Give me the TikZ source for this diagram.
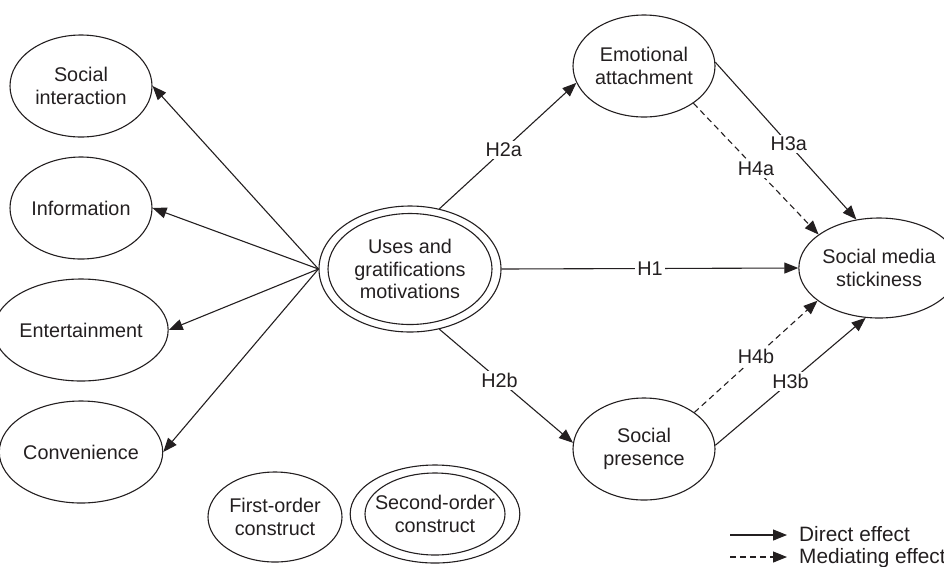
\documentclass[tikz,border=0pt]{standalone}
\usepackage{fontspec}
\setmainfont{Liberation Sans}
\usetikzlibrary{shapes.geometric,arrows.meta}
\definecolor{ink}{RGB}{35,31,32}
\begin{document}
\begin{tikzpicture}[x=1pt,y=-1pt,
  every node/.style={text=ink},
  construct/.style={ellipse,draw=ink,line width=1.1pt,inner sep=0pt,minimum width=142pt,minimum height=102pt,align=center,font=\fontsize{19.8}{22.5}\selectfont},
  conn/.style={draw=ink,line width=1.1pt,-{Triangle[length=14pt,width=11pt]}},
  med/.style={conn,dash pattern=on 6pt off 4pt},
  hlabel/.style={fill=white,inner sep=2pt,font=\fontsize{19.8}{22.5}\selectfont},
  legtext/.style={anchor=base west,inner sep=0pt,font=\fontsize{20.8}{24}\selectfont}
]
\useasboundingbox (0,0) rectangle (944,566);
\clip (0,0) rectangle (944,566);

% first-order constructs
\node[construct] (si) at (81,86) {Social\\interaction};
\node[construct] (inf) at (81,208) {Information};
\node[construct] (ent) at (81,330) {Entertainment};
\node[construct] (con) at (81,452) {Convenience};

% second-order construct
\node[construct,minimum width=182pt,minimum height=126pt] (ugm) at (410,269) {Uses and\\gratifications\\motivations};
\draw[ink,line width=1.1pt] (ugm.center) ellipse [x radius=82pt,y radius=55.5pt];

\node[construct] (emo) at (644,66) {Emotional\\attachment};
\node[construct] (pres) at (644,449) {Social\\presence};
\node[construct,minimum height=100pt] (stick) at (879,268) {Social media\\stickiness};

% legend constructs
\node[construct,minimum width=134pt,minimum height=90pt] (fo) at (275,517) {First-order\\construct};
\node[construct,minimum width=156pt,minimum height=98pt] (so) at (435,514) {Second-order\\construct};
\draw[ink,line width=1.1pt] (so.center) ellipse [x radius=70pt,y radius=41pt];

% reflective arrows
\draw[conn] (ugm.west) -- (si.east);
\draw[conn] (ugm.west) -- (inf.east);
\draw[conn] (ugm.west) -- (ent.east);
\draw[conn] (ugm.west) -- (con.east);

% hypotheses
\draw[conn] (ugm.64) -- node[hlabel,pos=0.47] {H2a} (emo.194);
\draw[conn] (ugm.-64) -- node[hlabel,pos=0.45] {H2b} (pres.175);
\draw[conn] (ugm.east) -- node[hlabel,pos=0.5] {H1} (stick.west);
\draw[conn] (emo.3) -- node[hlabel,pos=0.52] {H3a} (stick.115);
\draw[med] (emo.-37) -- node[hlabel,pos=0.5] {H4a} (stick.151);
\draw[med] (pres.36) -- node[hlabel,pos=0.5] {H4b} (stick.208);
\draw[conn] (pres.3) -- node[hlabel,pos=0.5] {H3b} (stick.255);

% legend
\coordinate (d1) at (730,535);
\coordinate (d2) at (787,535);
\coordinate (m1) at (730,557);
\coordinate (m2) at (787,557);
\draw[conn] (d1) -- (d2);
\draw[med] (m1) -- (m2);
\node[legtext] (dt) at (799,541) {Direct effect};
\node[legtext] (mt) at (799,563) {Mediating effect};
\end{tikzpicture}
\end{document}
